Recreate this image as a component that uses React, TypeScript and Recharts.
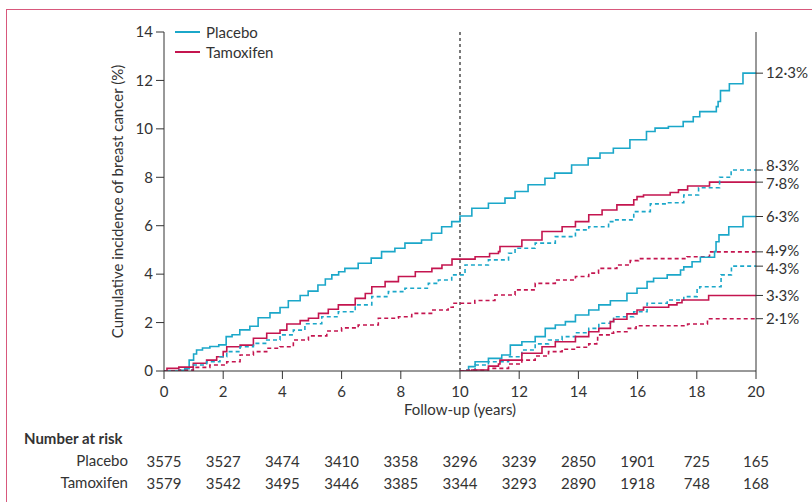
import React from 'react';
import { LineChart, Line, XAxis, YAxis, ReferenceLine, Label } from 'recharts';

const FONT = 'Lato, "Noto Sans", sans-serif';
const CYAN = '#1ba7c9';
const RED = '#c4154f';
const INK = '#333333';

const yearTicks = [0, 2, 4, 6, 8, 10, 12, 14, 16, 18, 20];
const leftTicks = [0, 2, 4, 6, 8, 10, 12, 14];
const rightTickValues = [12.3, 8.3, 7.8, 6.38, 4.92, 4.33, 3.12, 2.16];
const rightTickLabels = ['12·3%', '8·3%', '7·8%', '6·3%', '4·9%', '4·3%', '3·3%', '2·1%'];
const rightLabelNudge = [0, -4, 1.5, 0.5, -1.5, 2.5, 0, 0];
const placeboAtRisk = [3575, 3527, 3474, 3410, 3358, 3296, 3239, 2850, 1901, 725, 165];
const tamoxifenAtRisk = [3579, 3542, 3495, 3446, 3385, 3344, 3293, 2890, 1918, 748, 168];

type P = [number, number];

// Placebo, all breast cancer, years 0-20 (solid)
const placeboAll: P[] = [
  [0, 0], [0.5, 0.03], [0.7, 0.1], [0.85, 0.45], [1.0, 0.7], [1.1, 0.87], [1.3, 0.95], [1.55, 1.01],
  [1.85, 1.08], [2.1, 1.42], [2.3, 1.5], [2.56, 1.7], [2.9, 1.85], [3.18, 2.2], [3.58, 2.4], [3.92, 2.62],
  [4.2, 2.9], [4.6, 3.12], [4.87, 3.3], [5.2, 3.55], [5.45, 3.8], [5.67, 3.97], [5.9, 4.1], [6.11, 4.24],
  [6.56, 4.45], [7.0, 4.66], [7.35, 4.93], [7.8, 5.07], [8.14, 5.28], [8.7, 5.41], [9.04, 5.69], [9.38, 5.96],
  [9.72, 6.17], [10.0, 6.4], [10.4, 6.72], [10.96, 6.93], [11.52, 7.14], [11.86, 7.41], [12.3, 7.69],
  [12.87, 7.96], [13.2, 8.17], [13.77, 8.51], [14.33, 8.79], [14.73, 9.0], [15.18, 9.2], [15.74, 9.55],
  [16.3, 9.89], [16.59, 10.03], [17.04, 10.1], [17.54, 10.3], [17.88, 10.5], [18.1, 10.71], [18.66, 10.92],
  [18.72, 11.13], [18.8, 11.58], [19.1, 11.86], [19.56, 12.3], [20, 12.3],
];

// Tamoxifen, all breast cancer, years 0-20 (solid)
const tamoxifenAll: P[] = [
  [0, 0], [0.1, 0.11], [0.5, 0.16], [0.99, 0.32], [1.44, 0.45], [1.78, 0.59], [2.0, 0.8], [2.12, 1.0],
  [2.57, 1.07], [3.02, 1.35], [3.47, 1.56], [3.92, 1.69], [4.15, 1.94], [4.6, 2.08], [4.88, 2.18],
  [5.22, 2.38], [5.55, 2.55], [5.89, 2.73], [6.46, 3.0], [6.8, 3.2], [7.02, 3.48], [7.47, 3.69], [7.92, 3.9],
  [8.49, 4.1], [9.05, 4.24], [9.39, 4.38], [9.73, 4.62], [10.51, 4.72], [11.0, 4.85], [11.3, 4.93],
  [11.35, 5.14], [12.09, 5.41], [12.77, 5.76], [13.45, 5.96], [13.9, 6.17], [14.35, 6.45], [14.8, 6.65],
  [15.3, 6.86], [15.87, 7.07], [15.98, 7.2], [16.2, 7.27], [17.1, 7.37], [17.38, 7.48], [17.69, 7.64],
  [18.43, 7.8], [20, 7.8],
];

// Placebo, years 0-20 (dashed)
const placeboDashed: P[] = [
  [0, 0], [0.5, 0.04], [0.99, 0.25], [1.44, 0.38], [1.89, 0.59], [2.12, 0.8], [2.57, 1.0], [3.02, 1.14],
  [3.47, 1.28], [3.92, 1.49], [4.37, 1.69], [4.76, 1.95], [5.33, 2.24], [5.89, 2.45], [6.46, 2.73],
  [7.02, 3.07], [7.58, 3.28], [8.14, 3.42], [8.93, 3.62], [9.27, 3.76], [9.72, 3.97], [10.17, 4.38],
  [10.96, 4.59], [11.64, 4.86], [11.86, 5.07], [12.54, 5.28], [13.22, 5.55], [13.9, 5.83], [14.35, 5.96],
  [15.02, 6.17], [15.19, 6.24], [15.87, 6.58], [16.43, 6.9], [17.0, 6.95], [17.56, 7.27], [18.06, 7.57],
  [18.77, 8.0], [19.16, 8.3], [20, 8.3],
];

// Tamoxifen, years 0-20 (dashed)
const tamoxifenDashed: P[] = [
  [0, 0], [0.5, 0.03], [0.99, 0.15], [1.55, 0.25], [2.12, 0.38], [2.57, 0.66], [3.02, 0.8], [3.47, 0.94],
  [3.92, 1.0], [4.37, 1.28], [4.88, 1.45], [5.5, 1.65], [6.0, 1.78], [6.56, 1.9], [7.24, 2.18], [7.92, 2.24],
  [8.37, 2.38], [9.04, 2.52], [9.6, 2.63], [9.77, 2.8], [10.5, 2.91], [11.18, 3.14], [11.86, 3.35],
  [12.54, 3.62], [13.22, 3.76], [13.9, 3.9], [14.35, 4.04], [14.68, 4.24], [15.3, 4.38], [15.75, 4.56],
  [16.03, 4.64], [17.67, 4.72], [18.43, 4.92], [20, 4.92],
];

// Placebo, years 10-20 (solid)
const placeboLate: P[] = [
  [10, 0], [10.29, 0.18], [10.51, 0.38], [10.96, 0.52], [11.41, 0.66], [11.7, 1.07], [12.09, 1.21],
  [12.54, 1.42], [12.88, 1.76], [13.22, 1.9], [13.56, 2.04], [13.9, 2.31], [14.35, 2.52], [14.69, 2.73],
  [15.08, 2.9], [15.64, 3.21], [15.98, 3.42], [16.32, 3.69], [16.54, 3.83], [17.0, 3.97], [17.45, 4.17],
  [17.56, 4.3], [17.84, 4.51], [18.12, 4.7], [18.6, 4.93], [18.65, 5.34], [18.75, 5.62], [19.08, 5.96],
  [19.56, 6.38], [20, 6.38],
];

// Placebo, years 10-20 (dashed)
const placeboLateDashed: P[] = [
  [10, 0], [10.17, 0.04], [10.51, 0.25], [10.96, 0.38], [11.64, 0.59], [12.09, 0.87], [12.54, 1.12],
  [12.99, 1.28], [13.45, 1.42], [13.9, 1.58], [14.35, 1.76], [14.69, 1.97], [15.08, 2.04], [15.19, 2.24],
  [15.87, 2.45], [16.32, 2.8], [17.0, 2.93], [17.56, 3.07], [18.01, 3.35], [18.1, 3.48], [18.82, 3.97],
  [19.17, 4.33], [20, 4.33],
];

// Tamoxifen, years 10-20 (solid)
const tamoxifenLate: P[] = [
  [10, 0], [10.4, 0.04], [10.96, 0.2], [11.3, 0.29], [11.35, 0.45], [12.09, 0.73], [12.77, 1.0],
  [13.22, 1.21], [13.9, 1.42], [14.35, 1.62], [14.69, 1.76], [15.08, 2.04], [15.19, 2.14], [15.64, 2.36],
  [15.98, 2.52], [16.2, 2.63], [17.05, 2.73], [17.33, 2.82], [17.5, 2.93], [18.4, 3.12], [20, 3.12],
];

// Tamoxifen, years 10-20 (dashed)
const tamoxifenLateDashed: P[] = [
  [10, 0], [10.17, 0.03], [10.96, 0.11], [11.64, 0.29], [12.09, 0.45], [12.54, 0.62], [12.99, 0.8],
  [13.45, 0.9], [13.9, 0.98], [14.35, 1.12], [14.62, 1.21], [14.65, 1.49], [15.08, 1.56], [15.19, 1.62],
  [15.64, 1.76], [15.95, 1.87], [17.69, 1.94], [18.36, 2.16], [20, 2.16],
];

const toData = (pts: P[]) => pts.map(([t, v]) => ({ t, v }));

const series = [
  { name: 'placeboAll', pts: placeboAll, color: CYAN, dash: undefined },
  { name: 'tamoxifenAll', pts: tamoxifenAll, color: RED, dash: undefined },
  { name: 'placeboDashed', pts: placeboDashed, color: CYAN, dash: '4 3' },
  { name: 'tamoxifenDashed', pts: tamoxifenDashed, color: RED, dash: '4 3' },
  { name: 'placeboLate', pts: placeboLate, color: CYAN, dash: undefined },
  { name: 'placeboLateDashed', pts: placeboLateDashed, color: CYAN, dash: '4 3' },
  { name: 'tamoxifenLate', pts: tamoxifenLate, color: RED, dash: undefined },
  { name: 'tamoxifenLateDashed', pts: tamoxifenLateDashed, color: RED, dash: '4 3' },
];

const tickStyle = { fill: INK, fontSize: 15, fontFamily: FONT };

const RightTick = (props: any) => {
  const { x, y, payload } = props;
  const i = rightTickValues.indexOf(payload.value);
  const nudge = i >= 0 ? rightLabelNudge[i] : 0;
  return (
    <text
      x={x}
      y={y + nudge}
      dy="0.355em"
      textAnchor="start"
      fill={INK}
      fontSize={15}
      fontFamily={FONT}
    >
      {i >= 0 ? rightTickLabels[i] : ''}
    </text>
  );
};

export default function App() {
  return (
    <div
      style={{
        position: 'absolute',
        left: 0,
        top: 0,
        width: 812,
        height: 502,
        background: '#ffffff',
        fontFamily: FONT,
        overflow: 'hidden',
      }}
    >
      <div
        style={{
          position: 'absolute',
          left: 6,
          top: 9,
          width: 806,
          height: 493,
          borderLeft: '1.5px solid #d8587c',
          borderTop: '1.5px solid #d8587c',
          boxSizing: 'border-box',
        }}
      />
      <div style={{ position: 'absolute', left: 0, top: 0 }}>
        <LineChart width={812} height={502} margin={{ top: 32, right: 0, bottom: 8, left: 104 }}>
          <XAxis
            xAxisId="main"
            type="number"
            dataKey="t"
            domain={[0, 20]}
            ticks={yearTicks}
            allowDataOverflow
            interval={0}
            height={79}
            tickSize={8}
            tickMargin={7}
            stroke={INK}
            tick={tickStyle}
          >
            <Label
              value="Follow-up (years)"
              position="insideTop"
              offset={33}
              style={{ fill: INK, fontSize: 15, fontFamily: FONT }}
            />
          </XAxis>
          <XAxis
            xAxisId="riskP"
            type="number"
            dataKey="t"
            domain={[0, 20]}
            ticks={yearTicks}
            allowDataOverflow
            interval={0}
            height={22}
            axisLine={false}
            tickLine={false}
            tickSize={0}
            tickMargin={6}
            tick={tickStyle}
            tickFormatter={(v: number) => String(placeboAtRisk[yearTicks.indexOf(v)])}
          >
            <Label value="Placebo" position="left" offset={36} style={{ fill: INK, fontSize: 15, fontFamily: FONT }} />
          </XAxis>
          <XAxis
            xAxisId="riskT"
            type="number"
            dataKey="t"
            domain={[0, 20]}
            ticks={yearTicks}
            allowDataOverflow
            interval={0}
            height={22}
            axisLine={false}
            tickLine={false}
            tickSize={0}
            tickMargin={6}
            tick={tickStyle}
            tickFormatter={(v: number) => String(tamoxifenAtRisk[yearTicks.indexOf(v)])}
          >
            <Label value="Tamoxifen" position="left" offset={36} style={{ fill: INK, fontSize: 15, fontFamily: FONT }} />
          </XAxis>
          <YAxis
            yAxisId="left"
            type="number"
            domain={[0, 14]}
            ticks={leftTicks}
            allowDataOverflow
            interval={0}
            width={60}
            tickSize={8}
            tickMargin={3}
            stroke={INK}
            tick={tickStyle}
          >
            <Label
              value="Cumulative incidence of breast cancer (%)"
              angle={-90}
              position="insideLeft"
              offset={14}
              style={{ textAnchor: 'middle', fill: INK, fontSize: 15, fontFamily: FONT }}
            />
          </YAxis>
          <YAxis
            yAxisId="right"
            orientation="right"
            type="number"
            domain={[0, 14]}
            ticks={rightTickValues}
            allowDataOverflow
            interval={0}
            width={56}
            tickSize={7}
            tickMargin={3}
            stroke={INK}
            tick={<RightTick />}
          />
          <ReferenceLine xAxisId="main" yAxisId="left" x={10} stroke="#222" strokeWidth={1.2} strokeDasharray="3 3" />
          {series.map((s) => (
            <Line
              key={s.name}
              xAxisId="main"
              yAxisId="left"
              data={toData(s.pts)}
              dataKey="v"
              type="stepAfter"
              stroke={s.color}
              strokeWidth={1.6}
              strokeDasharray={s.dash}
              dot={false}
              activeDot={false}
              isAnimationActive={false}
            />
          ))}
        </LineChart>
      </div>
      <div style={{ position: 'absolute', left: 175, top: 22, color: INK, fontSize: 15, lineHeight: '20px' }}>
        {[
          { label: 'Placebo', color: CYAN },
          { label: 'Tamoxifen', color: RED },
        ].map((e) => (
          <div key={e.label} style={{ display: 'flex', alignItems: 'center', height: 20 }}>
            <span style={{ display: 'inline-block', width: 25, height: 2, background: e.color, marginRight: 6 }} />
            <span>{e.label}</span>
          </div>
        ))}
      </div>
      <div
        style={{
          position: 'absolute',
          left: 24,
          top: 428,
          color: INK,
          fontSize: 15,
          fontWeight: 700,
          lineHeight: '20px',
        }}
      >
        Number at risk
      </div>
    </div>
  );
}
